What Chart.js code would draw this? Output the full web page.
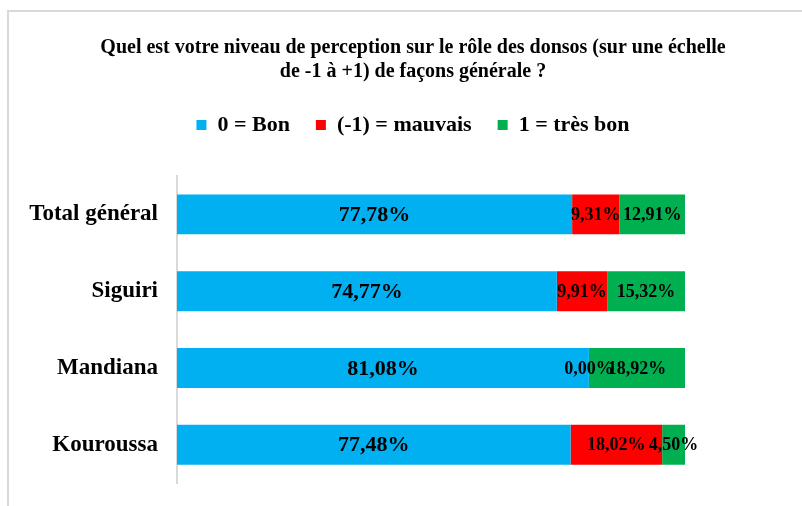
<!DOCTYPE html>
<html>
<head>
<meta charset="utf-8">
<script src="https://cdn.jsdelivr.net/npm/chart.js@4"></script>
<style>
  html, body { margin: 0; padding: 0; background: #fff; overflow: hidden; }
  #cadre {
    position: absolute; left: 7px; top: 10px;
    width: 812px; height: 500px;
    border: 2px solid #d9d9d9; box-sizing: border-box;
  }
  #graficoDonsos { position: absolute; left: 0; top: 0; }
</style>
</head>
<body>
<div id="cadre"><canvas id="graficoDonsos" width="808" height="496"></canvas></div>
<script>
const categorias = ['Total général', 'Siguiri', 'Mandiana', 'Kouroussa'];
const valoresBon = [77.78, 74.77, 81.08, 77.48];
const valoresMauvais = [9.31, 9.91, 0.00, 18.02];
const valoresTresBon = [12.91, 15.32, 18.92, 4.50];

const fonte = "'Liberation Serif', 'Times New Roman', serif";

function formatar(v) {
  return v.toFixed(2).replace('.', ',') + '%';
}

// rótulos dentro das barras, centrados em cada segmento
const rotulos = {
  id: 'rotulos',
  afterDatasetsDraw(chart) {
    const ctx = chart.ctx;
    ctx.save();
    ctx.fillStyle = '#000';
    ctx.textAlign = 'center';
    ctx.textBaseline = 'middle';
    chart.data.datasets.forEach((ds, i) => {
      const meta = chart.getDatasetMeta(i);
      ctx.font = 'bold ' + (i === 0 ? 22 : 18) + 'px ' + fonte;
      meta.data.forEach((bar, j) => {
        const p = bar.getProps(['x', 'y', 'base'], true);
        ctx.fillText(formatar(ds.data[j]), (p.x + p.base) / 2, p.y + 1);
      });
    });
    ctx.restore();
  }
};

new Chart(document.getElementById('graficoDonsos'), {
  type: 'bar',
  data: {
    labels: categorias,
    datasets: [
      { label: '0 = Bon', data: valoresBon, backgroundColor: '#00b0f0' },
      { label: '(-1) = mauvais', data: valoresMauvais, backgroundColor: '#ff0000' },
      { label: '1 = très bon', data: valoresTresBon, backgroundColor: '#00b050' }
    ]
  },
  options: {
    indexAxis: 'y',
    responsive: false,
    animation: false,
    barPercentage: 0.52,
    categoryPercentage: 1,
    layout: { padding: { bottom: 22 } },
    scales: {
      x: {
        stacked: true, min: 0, max: 100, position: 'top',
        grid: { display: false }, border: { display: false }, ticks: { display: false },
        afterFit: (s) => { s.height = 30; }
      },
      y: {
        stacked: true,
        grid: { display: false },
        border: { display: true, color: '#d9d9d9', width: 2 },
        ticks: { color: '#000', padding: 11, font: { family: fonte, size: 23, weight: 'bold' } },
        afterFit: (s) => { s.width = 168; }
      },
      // eixo vazio à direita só para reservar espaço
      y2: {
        type: 'category', position: 'right',
        grid: { display: false }, border: { display: false }, ticks: { display: false },
        afterFit: (s) => { s.width = 132; }
      }
    },
    plugins: {
      title: {
        display: true,
        text: ['Quel est votre niveau de perception sur le rôle des donsos (sur une échelle', 'de -1 à +1) de façons générale ?'],
        color: '#000',
        font: { family: fonte, size: 20, weight: 'bold', lineHeight: '24px' },
        padding: { top: 24, bottom: 4 }
      },
      legend: {
        labels: {
          color: '#000',
          boxWidth: 10,
          boxHeight: 10,
          padding: 26,
          font: { family: fonte, size: 22, weight: 'bold' }
        }
      },
      tooltip: { enabled: false }
    }
  },
  plugins: [rotulos]
});
</script>
</body>
</html>
